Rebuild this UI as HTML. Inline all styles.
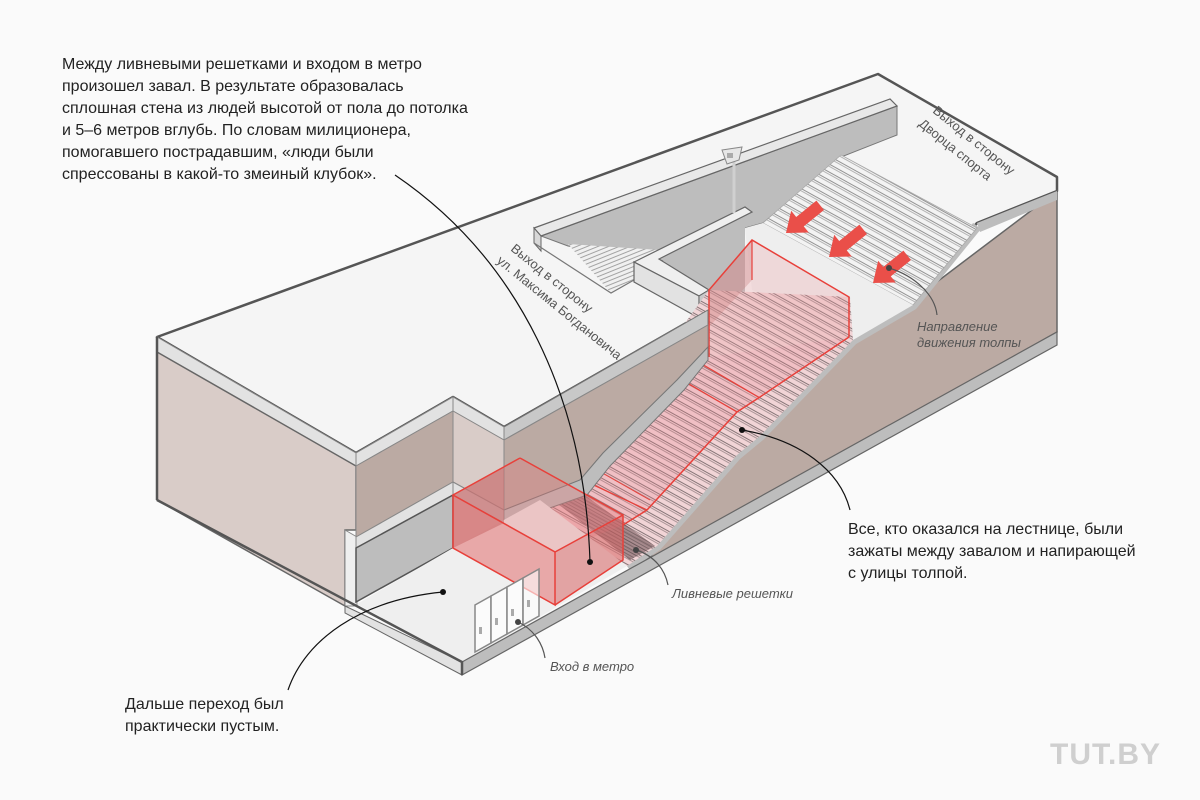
<!DOCTYPE html>
<html><head><meta charset="utf-8">
<style>
html,body{margin:0;padding:0;background:#fafafa;}
svg{display:block;}
.t{font-family:"Liberation Sans",sans-serif;font-size:16px;fill:#222;}
.s{font-family:"Liberation Sans",sans-serif;font-size:13px;fill:#555;font-style:italic;}
.r{font-family:"Liberation Sans",sans-serif;font-size:13px;fill:#555;}
</style></head>
<body>
<svg width="1200" height="800" viewBox="0 0 1200 800" xmlns="http://www.w3.org/2000/svg">
<defs>
<pattern id="st" width="8" height="7" patternUnits="userSpaceOnUse" patternTransform="rotate(29)">
<rect width="8" height="7" fill="#f3f3f3"/>
<line x1="0" y1="0.5" x2="8" y2="0.5" stroke="#888" stroke-width="0.9"/>
<line x1="0" y1="2.5" x2="8" y2="2.5" stroke="#a5a5a5" stroke-width="0.8"/>
</pattern>
<pattern id="sp" width="8" height="7" patternUnits="userSpaceOnUse" patternTransform="rotate(29)">
<rect width="8" height="7" fill="#f1d4d6"/>
<line x1="0" y1="0.5" x2="8" y2="0.5" stroke="#7a6a6c" stroke-width="0.9"/>
<line x1="0" y1="2.5" x2="8" y2="2.5" stroke="#9a8688" stroke-width="0.8"/>
</pattern>
<pattern id="gr" width="3" height="3" patternUnits="userSpaceOnUse" patternTransform="rotate(29)">
<rect width="3" height="3" fill="#9c7f82"/>
<line x1="0" y1="0.5" x2="3" y2="0.5" stroke="#5c4a4c" stroke-width="0.8"/>
</pattern>
<pattern id="sm" width="6" height="4" patternUnits="userSpaceOnUse" patternTransform="rotate(-22)">
<rect width="6" height="4" fill="#f0f0f0"/>
<line x1="0" y1="0.5" x2="6" y2="0.5" stroke="#909090" stroke-width="0.8"/>
</pattern>
</defs>

<polygon points="157,337 878,74 1057,177 1057,191 977,223 899,313 709,310 504,427 453,397 356,453" fill="#f5f5f5" stroke="#555" stroke-width="2.5" stroke-linejoin="round"/>

<polygon points="913,300 1057,191 1057,332 625,575 650,557 737,458 760,440 853,345" fill="#bbaaa3" stroke="#666" stroke-width="1.5"/>
<polyline points="977,223 1057,191" stroke="#555" stroke-width="2" fill="none"/>
<polyline points="977,226 913,305 853,340 760,436 737,455 657,546 627,566" fill="none" stroke="#bdbdbd" stroke-width="10" stroke-linejoin="round"/>
<polygon points="977,223 1057,191 1057,200 980,232" fill="#bdbdbd"/>

<polygon points="541,236 897,106 897,135 841,157 763,223 745,228 659,262 568,246" fill="#bdbdbd" stroke="#777" stroke-width="1"/>
<polygon points="534,228 890,99 897,106 541,236" fill="#e8e8e8" stroke="#666" stroke-width="1.2"/>
<polygon points="534,228 541,236 541,251 534,243" fill="#d8d8d8" stroke="#666" stroke-width="1"/>
<polygon points="568,244 659,250 634,280 611,293" fill="url(#sm)"/>
<polyline points="534,243 611,293 634,280" fill="none" stroke="#777" stroke-width="1.2"/>
<polygon points="659,258 745,212 745,292 709,290" fill="#bdbdbd"/>
<polygon points="634,262 745,207 752,212 659,259 709,290 699,296" fill="#efefef" stroke="#666" stroke-width="1.2"/>
<polygon points="634,262 699,296 699,318 634,282" fill="#e2e2e2" stroke="#666" stroke-width="1.2"/>
<polygon points="699,296 709,290 709,312 699,318" fill="#c8c8c8" stroke="#666" stroke-width="1"/>
<line x1="734" y1="162" x2="734" y2="213" stroke="#d0d0d0" stroke-width="3"/>
<polygon points="722,150 742,147 739,160 727,164" fill="#e6e6e6" stroke="#888" stroke-width="1"/>
<rect x="727" y="153" width="6" height="5" fill="#aaa"/>

<polygon points="841,155 977,228 913,305 763,223" fill="url(#st)" stroke="#aaa" stroke-width="0.8"/>
<polygon points="745,228 763,223 913,305 853,340 752,290" fill="#eeeeee"/>

<polygon points="709,290 850,297 853,340 760,436 737,455 657,546 627,566 530,495 600,440" fill="url(#sp)"/>
<polygon points="535,486 575,488 655,546 630,560" fill="url(#gr)" opacity="0.85"/>

<polygon points="709,290 752,240 752,280 709,327" fill="rgba(190,120,120,0.35)" stroke="none"/>
<polygon points="709,290 752,240 849,297 849,337 709,357" fill="rgba(240,150,155,0.25)" stroke="none"/>
<polyline points="709,357 709,290 752,240 849,297 849,337" fill="none" stroke="#e8403a" stroke-width="1.5"/>
<line x1="752" y1="240" x2="752" y2="280" stroke="#e8403a" stroke-width="1.2"/>
<polygon points="709,357 849,337 760,397 737,412 647,510 623,525 555,552 540,500 600,440" fill="rgba(235,120,130,0.22)"/>
<polyline points="849,337 760,397 737,412 647,510 623,525" fill="none" stroke="#e8403a" stroke-width="1.5"/>
<polyline points="700,363 760,398" fill="none" stroke="#e8403a" stroke-width="1.3"/>
<polyline points="682,380 737,412" fill="none" stroke="#e8403a" stroke-width="1.3"/>
<polyline points="583,480 647,510" fill="none" stroke="#e8403a" stroke-width="1.3"/>
<polyline points="590,466 650,500" fill="none" stroke="#e8403a" stroke-width="1"/>

<polygon points="504,427 708,310 708,325 504,440" fill="#c8c8c8" stroke="#777" stroke-width="1"/>
<polygon points="504,440 708,325 708,347 677,380 603,453 580,480 504,510" fill="#bbaaa3" stroke="#888" stroke-width="1"/>
<polygon points="504,510 580,480 603,453 677,380 708,347 708,360 684,390 610,466 587,495 504,524" fill="#bdbdbd" stroke="#777" stroke-width="1"/>

<polygon points="157,337 356,453 356,466 157,352" fill="#e2e2e2" stroke="#888" stroke-width="1"/>
<polygon points="157,352 356,466 356,530 345,530 345,606 157,500" fill="#d9ccc8" stroke="#666" stroke-width="1.5"/>
<line x1="157" y1="337" x2="157" y2="500" stroke="#555" stroke-width="2.5"/>
<polygon points="345,530 357,537 357,606 345,606" fill="#efefef" stroke="#888" stroke-width="1"/>
<polygon points="356,453 453,397 453,411 356,466" fill="#e2e2e2" stroke="#888" stroke-width="1"/>
<polygon points="356,466 453,411 453,482 356,537" fill="#bbaaa3" stroke="#888" stroke-width="1"/>
<polygon points="356,537 453,482 453,495 356,548" fill="#e2e2e2" stroke="#888" stroke-width="1"/>
<polygon points="453,397 504,427 504,440 453,411" fill="#e2e2e2" stroke="#888" stroke-width="1"/>
<polygon points="453,411 504,440 504,510 453,482" fill="#d9ccc8" stroke="#888" stroke-width="1"/>
<polygon points="453,482 504,510 504,523 453,495" fill="#e2e2e2" stroke="#888" stroke-width="1"/>
<polygon points="356,548 453,495 453,548 356,602" fill="#bdbdbd" stroke="#555" stroke-width="1.5"/>
<polygon points="357,604 453,548 540,500 627,566 462,662" fill="#efefef"/>
<polygon points="345,606 462,662 462,675 345,613" fill="#e2e2e2" stroke="#666" stroke-width="1"/>
<polygon points="462,662 1057,332 1057,345 462,675" fill="#bdbdbd" stroke="#666" stroke-width="1.2"/>
<polyline points="157,500 462,662 462,675" fill="none" stroke="#555" stroke-width="2.5"/>

<polygon points="453,495 504,467 504,523 453,548" fill="rgba(175,110,110,0.6)"/>
<polygon points="453,495 520,458 623,515 555,552" fill="rgba(230,120,120,0.35)"/>
<polygon points="453,495 555,552 555,605 453,548" fill="rgba(225,110,110,0.55)"/>
<polygon points="555,552 623,515 623,560 555,605" fill="rgba(215,100,100,0.55)"/>
<g fill="none" stroke="#e8403a" stroke-width="1.5">
<polyline points="453,495 453,548 555,605 555,552 453,495 520,458"/>
<polyline points="555,552 623,515 623,560 555,605"/>
<polyline points="520,458 623,515"/>
</g>

<g stroke="#888" stroke-width="1.5" fill="#fbfbfb">
<polygon points="475,605 491,596 491,643 475,652"/>
<polygon points="491,596 507,587 507,634 491,643"/>
<polygon points="507,587 523,578 523,625 507,634"/>
<polygon points="523,578 539,569 539,616 523,625" fill="rgba(255,255,255,0.6)"/>
</g>
<g fill="#aaa"><rect x="479" y="627" width="3" height="7"/><rect x="495" y="618" width="3" height="7"/><rect x="511" y="609" width="3" height="7"/><rect x="527" y="600" width="3" height="7"/></g>

<g fill="#ea4f49">
<polygon transform="translate(786,233) rotate(-39)" points="0,0 18,-14 18,-6 44,-6 44,6 18,6 18,14"/>
<polygon transform="translate(829,257) rotate(-39)" points="0,0 18,-14 18,-6 44,-6 44,6 18,6 18,14"/>
<polygon transform="translate(873,283) rotate(-39)" points="0,0 18,-14 18,-6 44,-6 44,6 18,6 18,14"/>
</g>

<g fill="none" stroke="#111" stroke-width="1.2">
<path d="M395,175 C520,260 585,400 590,562"/>
<path d="M742,430 C800,440 840,470 850,510"/>
<path d="M443,592 C360,600 305,640 288,690"/>
</g>
<g fill="none" stroke="#555" stroke-width="1.2">
<path d="M889,268 C915,276 935,295 937,315"/>
<path d="M636,550 C655,556 665,570 668,585"/>
<path d="M518,622 C535,630 543,645 545,658"/>
</g>
<g fill="#111"><circle cx="590" cy="562" r="3"/><circle cx="742" cy="430" r="3"/><circle cx="443" cy="592" r="3"/></g>
<g fill="#444"><circle cx="889" cy="268" r="3"/><circle cx="636" cy="550" r="3"/><circle cx="518" cy="622" r="3"/></g>

<g class="t">
<text x="62" y="69">Между ливневыми решетками и входом в метро</text>
<text x="62" y="91">произошел завал. В результате образовалась</text>
<text x="62" y="113">сплошная стена из людей высотой от пола до потолка</text>
<text x="62" y="135">и 5–6 метров вглубь. По словам милиционера,</text>
<text x="62" y="157">помогавшего пострадавшим, «люди были</text>
<text x="62" y="179">спрессованы в какой-то змеиный клубок».</text>
<text x="848" y="534">Все, кто оказался на лестнице, были</text>
<text x="848" y="556">зажаты между завалом и напирающей</text>
<text x="848" y="578">с улицы толпой.</text>
<text x="125" y="709">Дальше переход был</text>
<text x="125" y="731">практически пустым.</text>
</g>
<text class="s" x="672" y="598">Ливневые решетки</text>
<text class="s" x="550" y="671">Вход в метро</text>
<text class="s" x="917" y="331">Направление</text>
<text class="s" x="917" y="347">движения толпы</text>
<g class="r">
<text transform="translate(510,250) rotate(39)">Выход в сторону</text>
<text transform="translate(496,262) rotate(39)">ул. Максима Богдановича</text>
<text transform="translate(932,112) rotate(39)">Выход в сторону</text>
<text transform="translate(918,125) rotate(39)">Дворца спорта</text>
</g>
<text x="1050" y="764" font-family="Liberation Sans, sans-serif" font-weight="bold" font-size="30" fill="#cfcfcf" letter-spacing="1">TUT.BY</text>
</svg>
</body></html>
